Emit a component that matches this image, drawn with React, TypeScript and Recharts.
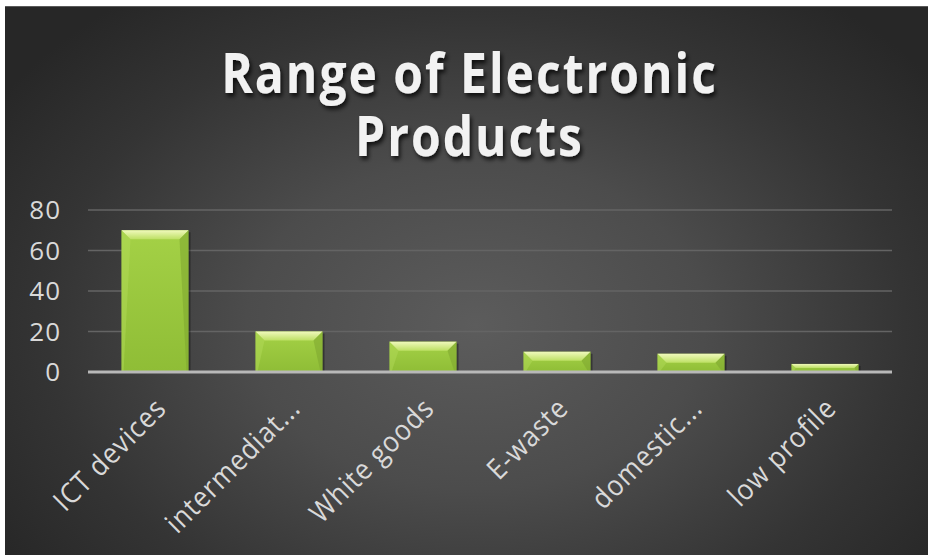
import React from 'react';
import { BarChart, Bar, XAxis, YAxis, CartesianGrid } from 'recharts';

const categories = ['ICT devices', 'intermediat...', 'White goods', 'E-waste', 'domestic...', 'low profile'];
const values = [70, 20, 15, 10, 9, 4];
const yTicks = [0, 20, 40, 60, 80];
const titleLines = ['Range of Electronic', 'Products'];

const data = categories.map((name, i) => ({ name, value: values[i] }));

const W = 923;
const H = 549;
const FONT = '"Open Sans", "DejaVu Sans", sans-serif';

// green bar with a bevelled top, like the office "bevel" effect
function BevelBar(props: any) {
  const { x, y, width, height } = props;
  if (!height || height <= 0) return null;
  const b = Math.min(9, height / 2);
  return (
    <g>
      <rect x={x + 2} y={y + 2} width={width} height={height - 2} fill="#000" opacity={0.35} />
      <rect x={x} y={y} width={width} height={height} fill="url(#barBody)" />
      <polygon
        points={`${x},${y} ${x + width},${y} ${x + width - b},${y + b} ${x + b},${y + b}`}
        fill="url(#barTop)"
      />
      <polygon
        points={`${x + width},${y} ${x + width},${y + height} ${x + width - 2},${y + height} ${x + width - b},${y + b}`}
        fill="#7ea52f"
        opacity={0.55}
      />
      <polygon
        points={`${x},${y} ${x + b},${y + b} ${x + 2},${y + height} ${x},${y + height}`}
        fill="#b4dc5c"
        opacity={0.45}
      />
    </g>
  );
}

function YTick(props: any) {
  const { y, payload } = props;
  return (
    <text
      x={56}
      y={y}
      dy="0.36em"
      textAnchor="end"
      fill="#d9d9d9"
      fontSize={26}
      letterSpacing={1}
      fontFamily={FONT}
    >
      {payload.value}
    </text>
  );
}

function XTick(props: any) {
  const { x, y, payload } = props;
  return (
    <g transform={`translate(${x + 13},${y + 30})`}>
      <text
        x={0}
        y={0}
        textAnchor="end"
        transform="rotate(-45) scale(1,1.1)"
        fill="#d9d9d9"
        fontSize={26}
        letterSpacing={1}
        fontFamily={FONT}
      >
        {payload.value}
      </text>
    </g>
  );
}

export default function App() {
  return (
    <div style={{ position: 'absolute', left: 0, top: 0, width: 928, height: 555, background: '#fff' }}>
      <style>{'body{margin:0}'}</style>
      <div
        style={{
          position: 'absolute',
          left: 5,
          top: 6,
          width: W,
          height: H,
          borderTop: '1px solid #5a5a5a',
          boxSizing: 'border-box',
          background:
            'radial-gradient(ellipse 62% 75% at 51% 58%, #5c5c5c 0%, #4c4c4c 40%, #343434 75%, #272727 100%)',
        }}
      >
        <div style={{ position: 'absolute', left: 0, top: -1 }}>
          <BarChart
            width={W}
            height={H}
            data={data}
            margin={{ top: 204, right: 36, bottom: 23, left: 23 }}
            barCategoryGap="25%"
          >
            <defs>
              <linearGradient id="barBody" x1="0" y1="0" x2="0" y2="1">
                <stop offset="0%" stopColor="#a4d146" />
                <stop offset="100%" stopColor="#8fbd36" />
              </linearGradient>
              <linearGradient id="barTop" x1="0" y1="0" x2="0" y2="1">
                <stop offset="0%" stopColor="#f0f9bc" />
                <stop offset="100%" stopColor="#bde064" />
              </linearGradient>
            </defs>
            <CartesianGrid vertical={false} stroke="#646464" strokeWidth={1.5} />
            <XAxis
              dataKey="name"
              axisLine={{ stroke: '#b8b8b8', strokeWidth: 3 }}
              tickLine={false}
              interval={0}
              height={160}
              tick={<XTick />}
            />
            <YAxis
              domain={[0, 80]}
              ticks={yTicks}
              axisLine={false}
              tickLine={false}
              width={60}
              tick={<YTick />}
            />
            <Bar dataKey="value" shape={<BevelBar />} isAnimationActive={false} />
          </BarChart>
        </div>
        <svg width={W} height={200} style={{ position: 'absolute', left: 0, top: 0, pointerEvents: 'none' }}>
          <defs>
            <filter id="titleShadow" x="-10%" y="-30%" width="120%" height="160%">
              <feDropShadow dx="2" dy="3" stdDeviation="2" floodColor="#000" floodOpacity="0.75" />
            </filter>
          </defs>
          <text
            transform={`translate(${W / 2 + 3},86) scale(1,1.15)`}
            textAnchor="middle"
            fill="#f2f2f2"
            fontSize={48}
            fontWeight={700}
            letterSpacing={2}
            fontFamily={FONT}
            filter="url(#titleShadow)"
          >
            {titleLines.map((line, i) => (
              <tspan key={line} x={0} dy={i === 0 ? 0 : 54.8}>
                {line}
              </tspan>
            ))}
          </text>
        </svg>
      </div>
    </div>
  );
}
